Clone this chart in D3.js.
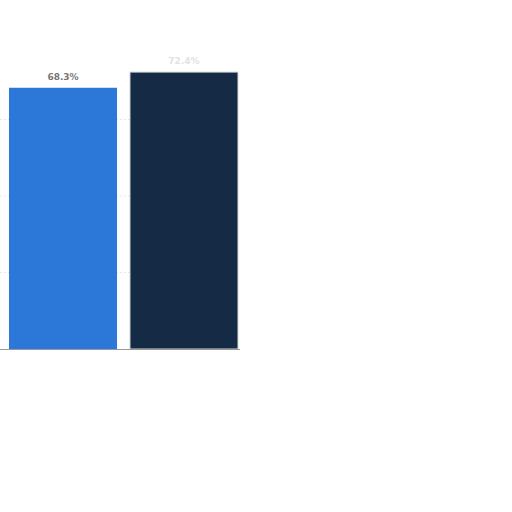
<!DOCTYPE html>
<html>
<head>
<meta charset="utf-8">
<script src="https://cdn.jsdelivr.net/npm/d3@7"></script>
<style>
  body { margin: 0; background: #fff; }
</style>
</head>
<body>
<svg id="svg1"></svg>
<script>
const categories = ["A", "B"];
const values = [68.3, 72.4];
const labels = ["68.3%", "72.4%"];
const gridTicks = [20, 40, 60];

const width = 512;
const height = 512;
const svg = d3.select("#svg1")
    .attr("width", width)
    .attr("height", height)
    .style("font", "10px 'DejaVu Sans', sans-serif");

const x = d3.scaleBand()
    .domain(categories)
    .range([9, 238])
    .paddingInner(0.107)
    .paddingOuter(0);

const y = d3.scaleLinear()
    .domain([0, 80])
    .range([349, 43]);

const colors = ["#2b78d9", "#142a45"];

// faint dashed gridlines
svg.append("g")
  .selectAll("line")
  .data(gridTicks)
  .join("line")
    .attr("x1", 0)
    .attr("x2", 240)
    .attr("y1", d => y(d))
    .attr("y2", d => y(d))
    .attr("stroke", "#e4e6ea")
    .attr("stroke-dasharray", "2,2");

svg.append("g")
  .selectAll("rect")
  .data(values)
  .join("rect")
    .attr("x", (d, i) => x(categories[i]))
    .attr("y", d => y(d))
    .attr("width", x.bandwidth())
    .attr("height", d => y(0) - y(d))
    .attr("fill", (d, i) => colors[i])
    .attr("stroke", (d, i) => i === 1 ? "#d8d8d8" : "none")
    .attr("stroke-width", 1);

svg.append("g")
  .selectAll("text")
  .data(values)
  .join("text")
    .attr("x", (d, i) => x(categories[i]) + x.bandwidth() / 2)
    .attr("y", d => y(d) - 8)
    .attr("text-anchor", "middle")
    .attr("font-weight", "bold")
    .attr("font-size", 9)
    .attr("fill", (d, i) => i === 0 ? "#777" : "#e2e2e2")
    .text((d, i) => labels[i]);

// baseline
svg.append("line")
    .attr("x1", 0)
    .attr("x2", 240)
    .attr("y1", y(0) + 0.5)
    .attr("y2", y(0) + 0.5)
    .attr("stroke", "#999");
</script>
</body>
</html>
